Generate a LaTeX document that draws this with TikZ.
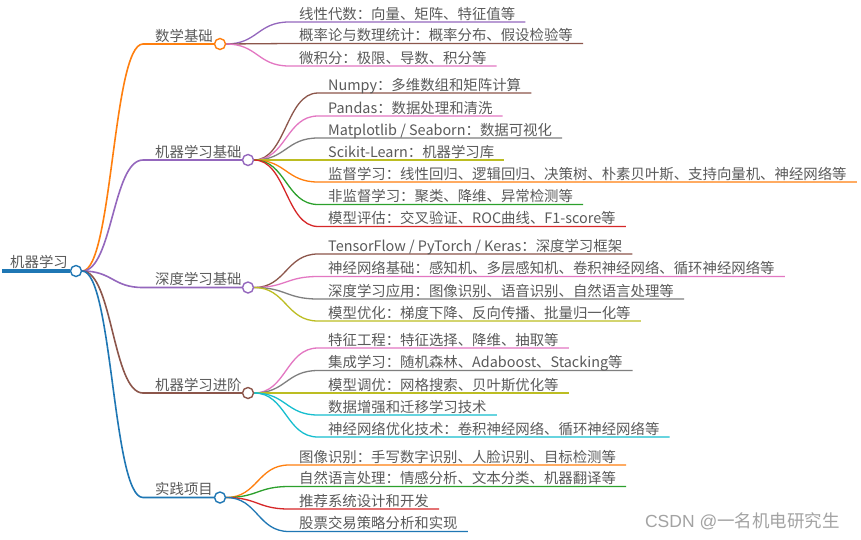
\documentclass[tikz,border=0pt]{standalone}
\usepackage{fontspec}
\setmainfont{Noto Sans CJK SC}
\newfontfamily\wmlatin{Liberation Sans}
\usetikzlibrary{calc,backgrounds}
\definecolor{cOrange}{HTML}{FF7F0E}
\definecolor{cPurple}{HTML}{9467BD}
\definecolor{cBrown}{HTML}{8C564B}
\definecolor{cBlue}{HTML}{1F77B4}
\definecolor{cPink}{HTML}{E377C2}
\definecolor{cGray}{HTML}{7F7F7F}
\definecolor{cOlive}{HTML}{BCBD22}
\definecolor{cCyan}{HTML}{17BECF}
\definecolor{cGreen}{HTML}{2CA02C}
\definecolor{cRed}{HTML}{D62728}
\definecolor{txt}{HTML}{5A5A5A}
\definecolor{wm}{HTML}{A3A3A3}
\tikzset{
  lbl/.style={anchor=base west, inner sep=0pt, text=txt, font=\fontsize{14.4}{16}\selectfont},
  dot/.style={circle, draw=#1, fill=white, line width=1.4pt, minimum size=11pt, inner sep=0pt},
  edge/.style={draw=#1, line width=1.6pt},
  twig/.style={draw=#1, line width=1.3pt},
}
% #1 parent, #2 name, #3 text x, #4 underline y, #5 colour, #6 text
\newcommand\leafnode[6]{%
  \node[lbl] (#2) at (#3,#4-3) {#6};
  \begin{scope}[on background layer]
  \draw[twig=#5] let \p1=(#1.east), \p2=(#3-10,#4) in
    (\p1) .. controls ({(\x1+\x2)/2},\y1) and ({(\x1+\x2)/2},\y2) .. (\p2)
    -- ([xshift=10pt,yshift=-3pt]#2.base east);
  \end{scope}
}
% #1 name, #2 circle x, #3 y, #4 colour, #5 text
\newcommand\mainnode[5]{%
  \node[dot=#4] (#1) at (#2,#3) {};
  \node[lbl] (#1t) at (155,#3-3) {#5};
  \begin{scope}[on background layer]
  \draw[edge=#4] let \p1=(root.east), \p2=(143,#3) in
    (\p1) .. controls ({(\x1+\x2)/2},\y1) and ({(\x1+\x2)/2},\y2) .. (\p2)
    -- (#1.west);
  \end{scope}
}
\begin{document}
\begin{tikzpicture}[x=1pt,y=-1pt]
\useasboundingbox (0,0) rectangle (861,539);
\begin{scope}[on background layer]
\fill[white] (0,0) rectangle (861,539);
\end{scope}
% root
\coordinate (rootstart) at (2,271);
\node[dot=cBlue] (root) at (76,271) {};
\node[lbl] (roott) at (10,267.5) {机器学习};
\begin{scope}[on background layer]
\draw[cBlue, line width=4pt] (rootstart) -- (root.west);
\end{scope}
% main branches
\mainnode{m1}{220}{44}{cOrange}{数学基础}
\mainnode{m2}{248}{160}{cPurple}{机器学习基础}
\mainnode{m3}{248}{287.5}{cPurple}{深度学习基础}
\mainnode{m4}{248}{393}{cBrown}{机器学习进阶}
\mainnode{m5}{220}{497.5}{cBlue}{实践项目}
% leaves
\leafnode{m1}{a1}{299}{22}{cPurple}{线性代数：向量、矩阵、特征值等}
\leafnode{m1}{a2}{299}{43.5}{cBrown}{概率论与数理统计：概率分布、假设检验等}
\leafnode{m1}{a3}{299}{66}{cPink}{微积分：极限、导数、积分等}
\leafnode{m2}{b1}{328}{93}{cBrown}{Numpy：多维数组和矩阵计算}
\leafnode{m2}{b2}{328}{116}{cPink}{Pandas：数据处理和清洗}
\leafnode{m2}{b3}{328}{138}{cGray}{Matplotlib / Seaborn：数据可视化}
\leafnode{m2}{b4}{328}{160}{cOlive}{Scikit-Learn：机器学习库}
\leafnode{m2}{b5}{328}{182}{cOrange}{监督学习：线性回归、逻辑回归、决策树、朴素贝叶斯、支持向量机、神经网络等}
\leafnode{m2}{b6}{328}{204.5}{cGreen}{非监督学习：聚类、降维、异常检测等}
\leafnode{m2}{b7}{328}{226.5}{cRed}{模型评估：交叉验证、ROC曲线、F1-score等}
\leafnode{m3}{c1}{328}{254}{cBrown}{TensorFlow / PyTorch / Keras：深度学习框架}
\leafnode{m3}{c2}{328}{276.5}{cPink}{神经网络基础：感知机、多层感知机、卷积神经网络、循环神经网络等}
\leafnode{m3}{c3}{328}{299}{cGray}{深度学习应用：图像识别、语音识别、自然语言处理等}
\leafnode{m3}{c4}{328}{321}{cOlive}{模型优化：梯度下降、反向传播、批量归一化等}
\leafnode{m4}{d1}{328}{348}{cPink}{特征工程：特征选择、降维、抽取等}
\leafnode{m4}{d2}{328}{370.5}{cGray}{集成学习：随机森林、Adaboost、Stacking等}
\leafnode{m4}{d3}{328}{393}{cOlive}{模型调优：网格搜索、贝叶斯优化等}
\leafnode{m4}{d4}{328}{415}{cCyan}{数据增强和迁移学习技术}
\leafnode{m4}{d5}{328}{437}{cCyan}{神经网络优化技术：卷积神经网络、循环神经网络等}
\leafnode{m5}{e1}{299}{465}{cOrange}{图像识别：手写数字识别、人脸识别、目标检测等}
\leafnode{m5}{e2}{299}{486.5}{cGreen}{自然语言处理：情感分析、文本分类、机器翻译等}
\leafnode{m5}{e3}{299}{509}{cRed}{推荐系统设计和开发}
\leafnode{m5}{e4}{299}{531.5}{cBlue}{股票交易策略分析和实现}
% watermark
\node[anchor=base east, inner sep=0pt, text=wm, font=\fontsize{17.5}{20}\selectfont] (wmk) at (840,527) {{\wmlatin CSDN @}一名机电研究生};
\end{tikzpicture}
\end{document}
